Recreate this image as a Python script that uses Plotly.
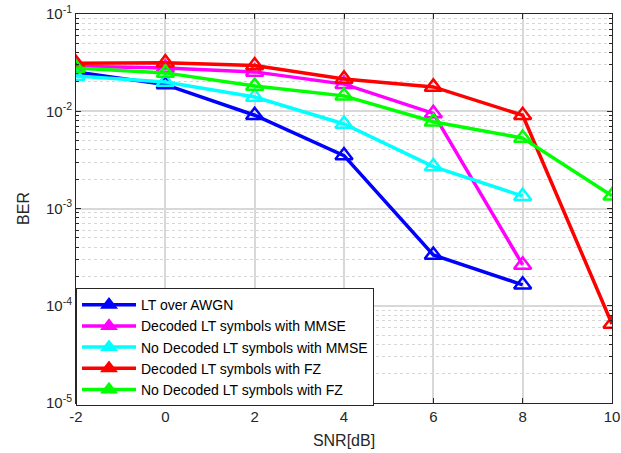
import plotly.graph_objects as go

snr = [-2, 0, 2, 4, 6, 8, 10]

ber_awgn = [0.0254, 0.0188, 0.0091, 0.0035, 3.33e-4, 1.64e-4]
ber_dec_mmse = [0.0290, 0.0279, 0.0254, 0.0190, 0.0095, 2.63e-4]
ber_nodec_mmse = [0.0231, 0.0200, 0.0140, 0.0074, 0.0027, 0.00134]
ber_dec_fz = [0.0312, 0.0316, 0.0295, 0.0215, 0.0178, 0.0091, 6.5e-5]
ber_nodec_fz = [0.0279, 0.0248, 0.0182, 0.0144, 0.0078, 0.0053, 0.00135]

names = ["LT over AWGN", "Decoded LT symbols with MMSE", "No Decoded LT symbols with MMSE",
         "Decoded LT symbols with FZ", "No Decoded LT symbols with FZ"]
colors = ["#0000ff", "#ff00ff", "#00ffff", "#ff0000", "#00ff00"]
series = [ber_awgn, ber_dec_mmse, ber_nodec_mmse, ber_dec_fz, ber_nodec_fz]

y_tickvals = [1e-5, 1e-4, 1e-3, 1e-2, 1e-1]
y_ticktext = ["10<sup>-5</sup>", "10<sup>-4</sup>", "10<sup>-3</sup>", "10<sup>-2</sup>", "10<sup>-1</sup>"]
x_tickvals = [-2, 0, 2, 4, 6, 8, 10]
x_ticktext = ["-2", "0", "2", "4", "6", "8", "10"]

minor_vals = [m * 10 ** e for e in range(-5, -1) for m in range(2, 10)]

fig = go.Figure()
for name, col, ys in zip(names, colors, series):
    fig.add_trace(go.Scatter(
        x=snr[:len(ys)], y=ys, name=name, mode="lines+markers", showlegend=False,
        line=dict(color=col, width=3.5),
        marker=dict(symbol="triangle-up-open", size=15, color=col, line=dict(width=2.5, color=col)),
    ))
# legend entries (filled triangles as in the reference legend)
for name, col in zip(names, colors):
    fig.add_trace(go.Scatter(
        x=[None], y=[None], name=name, mode="lines+markers", showlegend=True,
        line=dict(color=col, width=3.5),
        marker=dict(symbol="triangle-up", size=13, color=col, line=dict(width=1.5, color=col)),
    ))

font = "Liberation Sans, Arial, sans-serif"
fig.update_layout(
    width=621, height=453,
    margin=dict(l=76, r=9, t=14, b=50, autoexpand=False),
    paper_bgcolor="white", plot_bgcolor="white",
    font=dict(family=font, size=15, color="#262626"),
    showlegend=True,
    legend=dict(x=0, y=-0.008, xanchor="left", yanchor="bottom",
                bgcolor="white", bordercolor="#262626", borderwidth=1,
                font=dict(size=14, color="#000000"), tracegroupgap=0,
                itemwidth=54),
    xaxis=dict(
        range=[-2, 10], tickvals=x_tickvals, ticktext=x_ticktext, automargin=False,
        showgrid=True, gridcolor="#d8d8d8", gridwidth=1.5,
        showline=True, linecolor="#262626", linewidth=1, mirror="ticks",
        ticks="inside", ticklen=5, tickcolor="#262626",
        zeroline=False, title=dict(text="SNR[dB]", standoff=10, font=dict(size=16)),
    ),
    yaxis=dict(
        type="log", range=[-5, -1], tickvals=y_tickvals, ticktext=y_ticktext, automargin=False,
        showgrid=True, gridcolor="#d8d8d8", gridwidth=1.5,
        showline=True, linecolor="#262626", linewidth=1, mirror="ticks",
        ticks="inside", ticklen=5, tickcolor="#262626",
        minor=dict(tickvals=minor_vals, showgrid=True, gridcolor="#d6d6d6", griddash="dot",
                   gridwidth=1, ticks="inside", ticklen=3, tickcolor="#262626"),
        zeroline=False, title=dict(text="BER", standoff=12, font=dict(size=16)),
    ),
)

fig.write_html("out.html", config={"displayModeBar": False},
               post_script="document.body.style.margin='0';document.body.style.overflow='hidden';")
